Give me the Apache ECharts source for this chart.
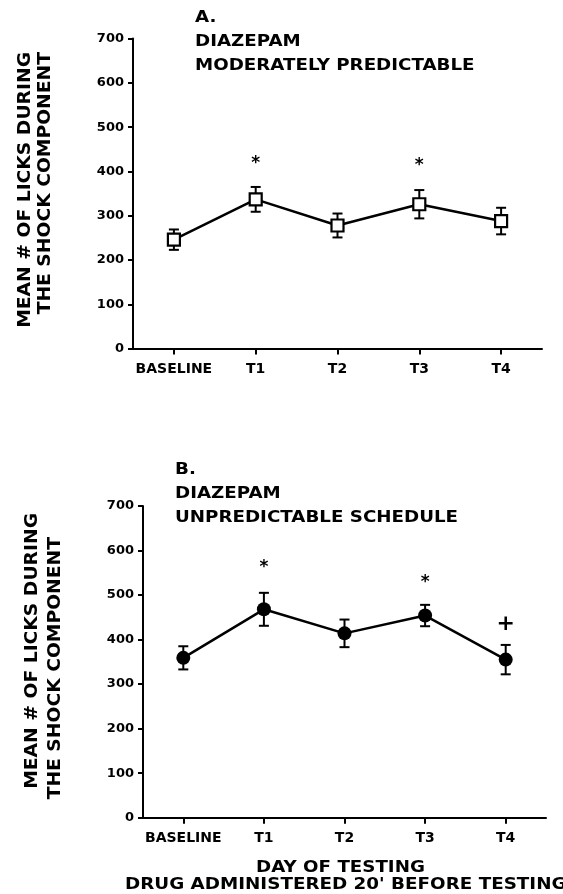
<!DOCTYPE html>
<html>
<head>
<meta charset="utf-8">
<script src="https://cdn.jsdelivr.net/npm/echarts@6/dist/echarts.min.js"></script>
<style>
html,body{margin:0;padding:0;background:#fff;}
#chart{width:563px;height:894px;}
</style>
</head>
<body>
<div id="chart"></div>
<script>
// ---- data ----
const categories = ['BASELINE', 'T1', 'T2', 'T3', 'T4'];
const yTickMin = 0, yTickMax = 700, yTickStep = 100;
// Panel A: moderately predictable (open squares)
const meanA = [246, 337, 278, 326, 288];
const semA  = [23, 28, 27, 32, 30];
// Panel B: unpredictable schedule (filled circles)
const meanB = [359, 468, 414, 454, 355];
const semB  = [26, 37, 31, 24, 33];
// significance marks: [category, height in licks]
const starsA = [['T1', 424], ['T3', 419]];
const starsB = [['T1', 568], ['T3', 534]];
const plusB  = [['T4', 435]];

const FONT = '"DejaVu Sans", Arial, sans-serif';
const chart = echarts.init(document.getElementById('chart'), null, {renderer: 'canvas'});

function errData(mean, sem) {
  return mean.map((m, i) => [i, m - sem[i], m + sem[i]]);
}
function errRender(params, api) {
  const i = api.value(0);
  const lo = api.coord([i, api.value(1)]);
  const hi = api.coord([i, api.value(2)]);
  const cw = 5;
  const st = {stroke: '#000', lineWidth: 2};
  return {type: 'group', children: [
    {type: 'line', shape: {x1: lo[0], y1: lo[1], x2: hi[0], y2: hi[1]}, style: st},
    {type: 'line', shape: {x1: hi[0] - cw, y1: hi[1], x2: hi[0] + cw, y2: hi[1]}, style: st},
    {type: 'line', shape: {x1: lo[0] - cw, y1: lo[1], x2: lo[0] + cw, y2: lo[1]}, style: st}
  ]};
}
function markRender(ch, size, dy) {
  return function (params, api) {
    const p = api.coord([api.value(0), api.value(1)]);
    return {type: 'text', x: p[0], y: p[1] + dy, style: {
      text: ch, fill: '#000', font: 'bold ' + size + 'px ' + FONT,
      align: 'center', verticalAlign: 'middle'}};
  };
}
function xAx(gi) {
  return {
    type: 'category', gridIndex: gi, data: categories, boundaryGap: true,
    axisLine: {show: true, lineStyle: {color: '#000', width: 2}},
    axisTick: {show: true, alignWithLabel: true, interval: 0, length: 6, lineStyle: {color: '#000', width: 2}},
    axisLabel: {color: '#000', fontFamily: FONT, fontWeight: 'bold', fontSize: 14, margin: 14, interval: 0},
    splitLine: {show: false}
  };
}
function yAx(gi) {
  return {
    type: 'value', gridIndex: gi, min: yTickMin, max: yTickMax, interval: yTickStep,
    axisLine: {show: true, lineStyle: {color: '#000', width: 2}},
    axisTick: {show: true, length: 5, lineStyle: {color: '#000', width: 2}},
    axisLabel: {color: '#000', fontFamily: FONT, fontWeight: 'bold', fontSize: 13, margin: 9},
    splitLine: {show: false}
  };
}
function txt(x, y, text, size, sx, align, rot) {
  const g = {type: 'text', x: x, y: y, scaleX: sx, silent: true, style: {
    text: text, fill: '#000', font: 'bold ' + size + 'px ' + FONT,
    textAlign: align || 'left', textVerticalAlign: 'middle'}};
  if (rot) g.rotation = rot;
  return g;
}
const R = Math.PI / 2;

const option = {
  backgroundColor: '#fff',
  animation: false,
  grid: [
    {left: 133, top: 38.6, width: 409, height: 310},
    {left: 143, top: 506, width: 403, height: 311.7}
  ],
  xAxis: [xAx(0), xAx(1)],
  yAxis: [yAx(0), yAx(1)],
  series: [
    {type: 'custom', xAxisIndex: 0, yAxisIndex: 0, data: errData(meanA, semA), renderItem: errRender, z: 1},
    {type: 'line', xAxisIndex: 0, yAxisIndex: 0, data: meanA, symbol: 'rect', symbolSize: 12,
      lineStyle: {color: '#000', width: 2.5}, itemStyle: {color: '#fff', borderColor: '#000', borderWidth: 2.2}, z: 3},
    {type: 'custom', xAxisIndex: 0, yAxisIndex: 0, data: starsA, renderItem: markRender('*', 17, 3), z: 4},
    {type: 'custom', xAxisIndex: 1, yAxisIndex: 1, data: errData(meanB, semB), renderItem: errRender, z: 1},
    {type: 'line', xAxisIndex: 1, yAxisIndex: 1, data: meanB, symbol: 'circle', symbolSize: 14,
      lineStyle: {color: '#000', width: 2.5}, itemStyle: {color: '#000', borderColor: '#000', borderWidth: 0}, z: 3},
    {type: 'custom', xAxisIndex: 1, yAxisIndex: 1, data: starsB, renderItem: markRender('*', 17, 3), z: 4},
    {type: 'custom', xAxisIndex: 1, yAxisIndex: 1, data: plusB, renderItem: markRender('+', 22, 0), z: 4}
  ],
  graphic: [
    txt(195, 18, 'A.', 16, 1.14),
    txt(195, 41.5, 'DIAZEPAM', 16, 1.14),
    txt(195, 66, 'MODERATELY PREDICTABLE', 16, 1.14),
    txt(175, 470, 'B.', 16, 1.14),
    txt(175, 493.5, 'DIAZEPAM', 16, 1.14),
    txt(175, 518, 'UNPREDICTABLE SCHEDULE', 16, 1.14),
    txt(25, 52, 'MEAN # OF LICKS DURING', 18, 1.04, 'right', R),
    txt(45, 52, 'THE SHOCK COMPONENT', 18, 1.04, 'right', R),
    txt(32, 513, 'MEAN # OF LICKS DURING', 18, 1.04, 'right', R),
    txt(55, 537, 'THE SHOCK COMPONENT', 18, 1.04, 'right', R),
    txt(256, 867.5, 'DAY OF TESTING', 16, 1.14),
    txt(125, 885, "DRUG ADMINISTERED 20' BEFORE TESTING", 16, 1.145)
  ]
};
chart.setOption(option);
</script>
</body>
</html>
